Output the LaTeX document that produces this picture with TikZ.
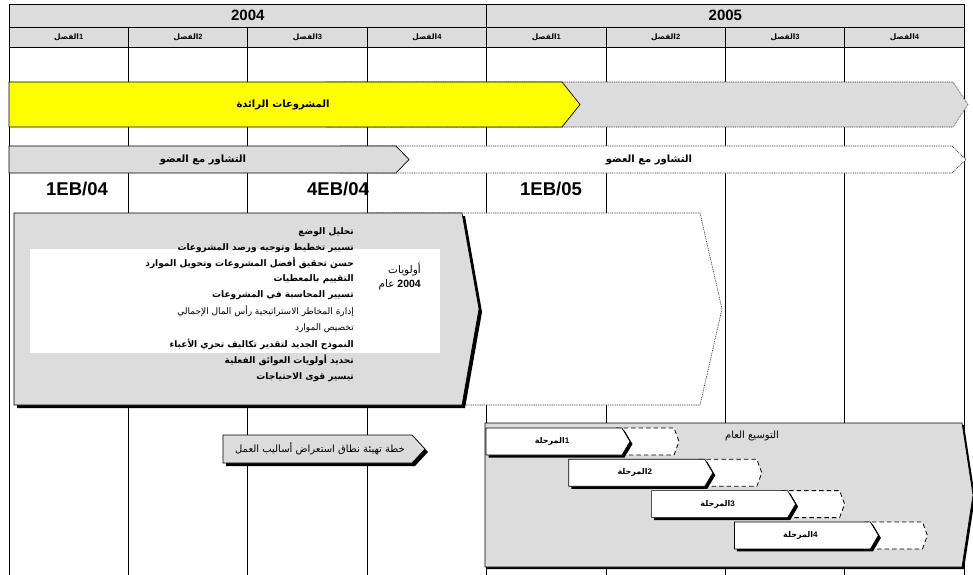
\documentclass[tikz,border=0pt]{standalone}
\usepackage{fontspec}
\setmainfont{Liberation Sans}
\newfontfamily\arfont[Script=Arabic]{DejaVu Sans}
\TeXXeTstate=1
\newcommand{\AR}[1]{{\arfont\beginR #1\endR}}
\definecolor{hdr}{HTML}{DCDCDC}
\definecolor{ylw}{HTML}{FFFF00}
\begin{document}
\begin{tikzpicture}[x=1pt,y=-1pt,
  gridline/.style={draw=black,line width=0.7pt},
  hdrcell/.style={fill=hdr,draw=black,line width=0.9pt},
  yeartxt/.style={font=\fontsize{15}{17}\bfseries\selectfont,inner sep=0pt},
  qtxt/.style={font=\fontsize{7.5}{9}\bfseries\selectfont,inner sep=0pt},
  bartxt/.style={font=\fontsize{10}{12}\bfseries\selectfont,inner sep=0pt},
  phtxt/.style={font=\fontsize{8}{10}\bfseries\selectfont,inner sep=0pt},
  regtxt/.style={font=\fontsize{10}{12}\selectfont,inner sep=0pt},
  mstxt/.style={font=\fontsize{18.5}{20}\bfseries\selectfont,inner sep=0pt},
  boxtxt/.style={font=\fontsize{9}{10}\bfseries\selectfont,inner sep=0pt,anchor=east},
  boxtxtl/.style={font=\fontsize{9}{10}\selectfont,inner sep=0pt,anchor=east},
  prtxt/.style={font=\fontsize{10.5}{12}\selectfont,inner sep=0pt,anchor=east},
  solidshape/.style={draw=black,line width=0.7pt},
  dotshape/.style={draw=black!80,line width=0.6pt,dash pattern=on 1pt off 0.8pt},
  dashshape/.style={draw=black,line width=0.8pt,dash pattern=on 4.5pt off 3pt},
  shadowfill/.style={fill=black}
]
\useasboundingbox (0,0) rectangle (973,574);
\fill[white] (0,0) rectangle (973,574);

% vertical grid lines
\foreach \i in {0,...,8}{
  \draw[gridline] ({9+119.4*\i},47) -- ({9+119.4*\i},575);
}

% header
\draw[hdrcell] (9,4) rectangle (486.6,27);
\draw[hdrcell] (486.6,4) rectangle (964.2,27);
\node[yeartxt] (y2004) at (247.8,15.5) {2004};
\node[yeartxt] (y2005) at (725.4,15.5) {2005};
\foreach \i in {0,...,7}{
  \draw[hdrcell] ({9+119.4*\i},27) rectangle ({9+119.4*(\i+1)},47);
}
\foreach \i/\q in {0/1,1/2,2/3,3/4,4/1,5/2,6/3,7/4}{
  \node[qtxt] (q\i) at ({68.7+119.4*\i},37.5) {\AR{الفصل}\q};
}

% row 1: grey continuation and yellow bar
\path[fill=hdr] (326,82) -- (953,82) -- (968,104.5) -- (953,127) -- (326,127) -- cycle;
\draw[dotshape] (326,82) -- (953,82) -- (968,104.5) -- (953,127) -- (326,127);
\draw[solidshape,fill=ylw] (9,82) -- (562,82) -- (580,104.5) -- (562,127) -- (9,127) -- cycle;
\node[bartxt] (pilot) at (283,104.5) {\AR{المشروعات الرائدة}};

% row 2: consultation bars
\path[fill=white] (340,146) -- (952,146) -- (966,159.5) -- (952,173) -- (340,173) -- cycle;
\draw[dotshape] (340,146) -- (952,146) -- (966,159.5) -- (952,173) -- (340,173);
\draw[solidshape,fill=hdr] (9,146) -- (396,146) -- (409,159.5) -- (396,173) -- (9,173) -- cycle;
\node[bartxt] (cons1) at (203,159.5) {\AR{التشاور مع العضو}};
\node[bartxt] (cons2) at (649,159.5) {\AR{التشاور مع العضو}};

% milestones
\node[mstxt] (m1) at (77,189) {1EB/04};
\node[mstxt] (m2) at (338,189) {4EB/04};
\node[mstxt] (m3) at (551,189) {1EB/05};

% white dotted chevron behind big box
\path[fill=white] (367,213) -- (700,213) -- (722,309) -- (700,405) -- (367,405) -- cycle;
\draw[dotshape] (367,213) -- (700,213) -- (722,309) -- (700,405) -- (440,405);

% big grey box
\fill[shadowfill] (17,216) -- (465,216) -- (482,312) -- (465,408) -- (17,408) -- cycle;
\draw[solidshape,fill=hdr] (14,213) -- (462,213) -- (479,309) -- (462,405) -- (14,405) -- cycle;
\fill[white] (30,249) rectangle (440,353);
\node[boxtxt] (l1) at (354,232) {\AR{تحليل الوضع}};
\node[boxtxt] (l2) at (354,248) {\AR{تسيير تخطيط وتوجيه ورصد المشروعات}};
\node[boxtxt] (l3) at (354,263.5) {\AR{حسن تحقيق أفضل المشروعات وتحويل الموارد}};
\node[boxtxt] (l4) at (354,279) {\AR{التقييم بالمعطيات}};
\node[boxtxt] (l5) at (354,295) {\AR{تسيير المحاسبة في المشروعات}};
\node[boxtxtl] (l6) at (354,311.5) {\AR{إدارة المخاطر الاستراتيجية رأس المال الإجمالي}};
\node[boxtxtl] (l7) at (354,328) {\AR{تخصيص الموارد}};
\node[boxtxt] (l8) at (354,344) {\AR{النموذج الجديد لتقدير تكاليف تحري الأعباء}};
\node[boxtxt] (l9) at (354,360) {\AR{تحديد أولويات العوائق الفعلية}};
\node[boxtxt] (l10) at (354,377) {\AR{تيسير قوى الاحتياجات}};
\node[prtxt] (pr1) at (421,270) {\AR{أولويات}};
\node[prtxt] (pr2) at (421,285) {\AR{عام}\ \textbf{2004}};

% small arrow
\fill[shadowfill] (226,438) -- (415,438) -- (428,452) -- (415,466) -- (226,466) -- cycle;
\draw[solidshape,fill=hdr] (223,435) -- (412,435) -- (425,449) -- (412,463) -- (223,463) -- cycle;
\node[regtxt] (plan) at (320,449) {\AR{خطة تهيئة نطاق استعراض أساليب العمل}};

% bottom-right roll-out chevron
\fill[shadowfill] (487,425) -- (964,425) -- (975,497) -- (964,569) -- (487,569) -- cycle;
\draw[solidshape,fill=hdr] (485,423) -- (962,423) -- (973,495) -- (962,567) -- (485,567) -- cycle;
\node[regtxt] (roll) at (752,436) {\AR{التوسيع العام}};

% phases
\foreach \i/\n in {0/1,1/2,2/3,3/4}{
  \pgfmathsetmacro{\xa}{486+82.8*\i}
  \pgfmathsetmacro{\ya}{428+31.3*\i}
  \path[fill=white] (\xa+130,\ya) -- (\xa+188,\ya) -- (\xa+193,\ya+13.5) -- (\xa+188,\ya+27) -- (\xa+130,\ya+27) -- cycle;
  \draw[dashshape] (\xa+130,\ya) -- (\xa+188,\ya) -- (\xa+193,\ya+13.5) -- (\xa+188,\ya+27) -- (\xa+140,\ya+27);
  \fill[shadowfill] (\xa+2.5,\ya+2.5) -- (\xa+138.5,\ya+2.5) -- (\xa+146.5,\ya+16) -- (\xa+138.5,\ya+29.5) -- (\xa+2.5,\ya+29.5) -- cycle;
  \draw[solidshape,fill=white] (\xa,\ya) -- (\xa+136,\ya) -- (\xa+144,\ya+13.5) -- (\xa+136,\ya+27) -- (\xa,\ya+27) -- cycle;
  \node[phtxt] (ph\n) at (\xa+66,\ya+13.5) {\AR{المرحلة}\n};
}
\end{tikzpicture}
\end{document}
